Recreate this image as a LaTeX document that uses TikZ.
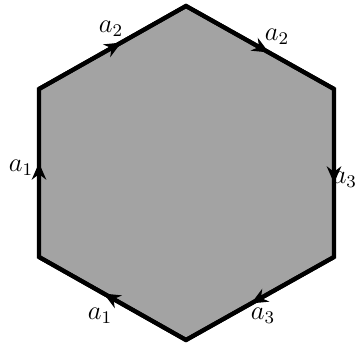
\documentclass[tikz,border=0pt]{standalone}
\usepackage{amsmath}
\usetikzlibrary{arrows.meta, decorations.markings}
\tikzset{
  hexfill/.style ={fill=black!36},
  border/.style  ={draw, line width=1.9pt, line join=miter},
  edg/.style     ={line width=1.9pt, postaction={decorate},
                   decoration={markings, mark=at position 0.56 with {\arrow{Stealth[length=7.5pt, width=6.5pt]}}}},
  lbl/.style     ={inner sep=0pt, font=\large},
}
\begin{document}
\begin{tikzpicture}[x=0.45pt, y=-0.45pt]
  \useasboundingbox (0,0) rectangle (358,343);
  % corners of the hexagon
  \coordinate (top) at (186,6);
  \coordinate (ur)  at (334,89);
  \coordinate (lr)  at (334,257);
  \coordinate (bot) at (186,340);
  \coordinate (ll)  at (39,257);
  \coordinate (ul)  at (39,89);
  \fill[hexfill] (top) -- (ur) -- (lr) -- (bot) -- (ll) -- (ul) -- cycle;
  % edges, oriented clockwise
  \draw[edg] (ul) -- (top);
  \draw[edg] (top) -- (ur);
  \draw[edg] (ur) -- (lr);
  \draw[edg] (lr) -- (bot);
  \draw[edg] (bot) -- (ll);
  \draw[edg] (ll) -- (ul);
  \path[border] (top) -- (ur) -- (lr) -- (bot) -- (ll) -- (ul) -- cycle;
  % labels
  \node[lbl] (lab1) at (111,29)  {$a_2$};
  \node[lbl] (lab2) at (277,37)  {$a_2$};
  \node[lbl] (lab3) at (21,168)  {$a_1$};
  \node[lbl, anchor=east] (lab4) at (357.5,180) {$a_3$};
  \node[lbl] (lab5) at (100,316) {$a_1$};
  \node[lbl] (lab6) at (263,316) {$a_3$};
\end{tikzpicture}
\end{document}
